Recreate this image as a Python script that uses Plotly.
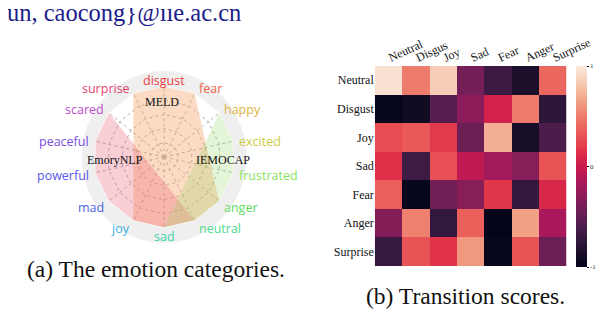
import math
import plotly.graph_objects as go

# ---------------- data ----------------
emotions = ["disgust", "fear", "happy", "excited", "frustrated", "anger", "neutral",
            "sad", "joy", "mad", "powerful", "peaceful", "scared", "surprise"]
emotion_colors = ["#ef3b3e", "#ef6446", "#dfb23e", "#cccc40", "#8ae45e", "#5cdc5c", "#4edc90",
                  "#40d6b0", "#40b2e4", "#4c62e6", "#5a56ec", "#7a4ce2", "#c04ace", "#e63e6c"]

meld_cats = ["surprise", "disgust", "fear", "anger", "neutral", "sad", "joy"]
emory_cats = ["scared", "peaceful", "powerful", "mad", "joy", "sad", "neutral"]
iemocap_cats = ["happy", "excited", "frustrated", "anger", "neutral", "sad"]
dataset_names = ["MELD", "EmoryNLP", "IEMOCAP"]

hm_cols = ["Neutral", "Disgus", "Joy", "Sad", "Fear", "Anger", "Surprise"]
hm_rows = ["Neutral", "Disgust", "Joy", "Sad", "Fear", "Anger", "Surprise"]
hm_values = [
    [0.95, 0.50, 0.85, -0.40, -0.68, -0.86, 0.40],
    [-0.98, -0.92, -0.55, -0.30, 0.05, 0.50, -0.76],
    [0.27, 0.33, 0.18, -0.45, 0.70, -0.88, -0.60],
    [0.15, -0.67, 0.28, -0.05, -0.20, -0.32, 0.30],
    [0.36, -0.98, -0.42, -0.32, 0.17, -0.72, 0.10],
    [-0.33, 0.52, -0.73, 0.37, -1.00, 0.65, -0.16],
    [-0.70, 0.30, 0.16, 0.62, -0.98, 0.30, -0.45],
]
cbar_ticks = [-1, 0, 1]

header_text = "un, caocong}@iie.ac.cn"
caption_a = "(a) The emotion categories."
caption_b = "(b) Transition scores."

# ---------------- layout helpers ----------------
W, H = 614, 310
def px(x):
    return x / W
def py(y):
    return 1 - y / H

CX, CY, R = 163, 149, 74      # radar centre / radius (px)
RG = 86                       # grey disc radius

rocket = [
    [0.0, "#03051a"], [0.143, "#35193e"], [0.2, "#4c1d4b"], [0.286, "#701f57"],
    [0.4, "#a11a5b"], [0.429, "#ad1759"], [0.5, "#cb1b4f"], [0.571, "#de2e48"],
    [0.6, "#e43f4c"], [0.714, "#ec6c62"], [0.8, "#f0937c"], [0.857, "#f4b296"],
    [1.0, "#faebdd"],
]

fig = go.Figure()

fills = ["rgba(244,160,96,0.38)", "rgba(236,96,120,0.30)", "rgba(150,212,100,0.26)"]
for name, cats, fc in zip(dataset_names, [meld_cats, emory_cats, iemocap_cats], fills):
    fig.add_trace(go.Scatterpolar(
        r=[1] * len(cats), theta=cats, fill="toself", fillcolor=fc,
        mode="lines", line=dict(color="rgba(255,255,255,0.9)", width=1),
        name=name, showlegend=False, hoverinfo="skip", subplot="polar"))

fig.add_trace(go.Heatmap(
    z=hm_values, x=hm_cols, y=hm_rows, colorscale=rocket, zmin=-1, zmax=1,
    xaxis="x", yaxis="y", showscale=True,
    colorbar=dict(
        x=px(593), xanchor="left", xpad=0, ypad=0, thickness=11,
        len=201 / H, lenmode="fraction", y=py(158.5), yanchor="middle",
        tickvals=cbar_ticks, ticktext=[str(t) for t in cbar_ticks],
        ticks="outside", ticklen=2, tickwidth=1, tickcolor="#000",
        tickfont=dict(family="Liberation Serif", size=7, color="#333"),
        outlinewidth=0)))

annotations = []
# category labels around the radar
n = len(emotions)
for i, (lab, col) in enumerate(zip(emotions, emotion_colors)):
    th = math.radians(90 - i * 360 / n)
    c, s = math.cos(th), math.sin(th)
    rl = 78
    x = CX + rl * c
    y = CY + 1.5 - rl * s
    xa = "left" if c > 0.3 else ("right" if c < -0.3 else "center")
    annotations.append(dict(x=px(x), y=py(y), xref="paper", yref="paper",
                            text=lab, showarrow=False, xanchor=xa, yanchor="middle",
                            font=dict(family="Open Sans", size=12.5, color=col)))

# dataset names
for name, (x, y) in zip(dataset_names, [(161, 94), (111.5, 152), (224.5, 152)]):
    annotations.append(dict(x=px(x), y=py(y), xref="paper", yref="paper", text=name,
                            showarrow=False, xanchor="center", yanchor="middle",
                            font=dict(family="Liberation Serif", size=12, color="#111")))

annotations.append(dict(x=px(-3), y=py(5), xref="paper", yref="paper", text=header_text,
                        showarrow=False, xanchor="left", yanchor="middle",
                        font=dict(family="Liberation Serif", size=24.5, color="#1c1c8a")))
annotations.append(dict(x=px(155), y=py(261), xref="paper", yref="paper", text=caption_a,
                        showarrow=False, xanchor="center", yanchor="middle",
                        font=dict(family="Liberation Serif", size=23.5, color="#111")))
annotations.append(dict(x=px(478), y=py(288), xref="paper", yref="paper", text=caption_b,
                        showarrow=False, xanchor="center", yanchor="middle",
                        font=dict(family="Liberation Serif", size=23.5, color="#111")))

fig.update_layout(
    width=W, height=H, margin=dict(l=0, r=0, t=0, b=0),
    paper_bgcolor="white", plot_bgcolor="rgba(0,0,0,0)",
    showlegend=False,
    polar=dict(
        domain=dict(x=[px(CX - R), px(CX + R)], y=[py(CY + R), py(CY - R)]),
        bgcolor="white", gridshape="linear",
        angularaxis=dict(type="category", categoryarray=emotions, direction="clockwise",
                         rotation=90, showticklabels=False, ticks="", showline=False,
                         gridcolor="#b2b2b2", gridwidth=0.6, griddash="dot"),
        radialaxis=dict(range=[0, 1], tickvals=[0.2, 0.4, 0.6, 0.8], showticklabels=False,
                        ticks="", showline=False, gridcolor="#b2b2b2", gridwidth=0.6,
                        griddash="dot")),
    xaxis=dict(domain=[px(383), px(583)], side="top", tickangle=-25, showgrid=False,
               ticks="", zeroline=False, showline=False,
               tickfont=dict(family="Liberation Serif", size=12, color="#111")),
    yaxis=dict(domain=[py(258), py(58)], autorange="reversed", showgrid=False,
               ticks="", zeroline=False, showline=False,
               tickfont=dict(family="Liberation Serif", size=12, color="#111")),
    shapes=[dict(type="circle", xref="paper", yref="paper", layer="below",
                 x0=px(CX - RG), x1=px(CX + RG), y0=py(CY + RG), y1=py(CY - RG),
                 fillcolor="#efefef", line=dict(width=0))],
    annotations=annotations,
)

fig.write_html("out.html")
